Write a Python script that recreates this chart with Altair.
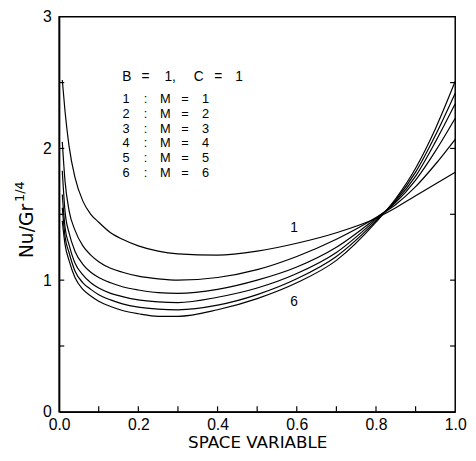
import altair as alt
import pandas as pd

# ---- data ----
x_vals = [0.008, 0.015, 0.025, 0.04, 0.06, 0.08, 0.1, 0.13, 0.16, 0.2, 0.25, 0.3, 0.4, 0.5,
          0.6, 0.7, 0.8, 0.85, 0.9, 0.95, 1.0]
m1 = [2.52, 2.28, 2.02, 1.78, 1.60, 1.50, 1.44, 1.36, 1.31, 1.26, 1.22, 1.20, 1.19, 1.22,
      1.28, 1.36, 1.47, 1.55, 1.64, 1.73, 1.82]
m2 = [2.05, 1.75, 1.53, 1.38, 1.26, 1.19, 1.14, 1.09, 1.06, 1.03, 1.01, 1.00, 1.02, 1.08,
      1.18, 1.31, 1.475, 1.575, 1.71, 1.88, 2.07]
m3 = [1.83, 1.52, 1.36, 1.22, 1.12, 1.06, 1.02, 0.98, 0.95, 0.925, 0.905, 0.90, 0.93, 1.00,
      1.10, 1.25, 1.47, 1.59, 1.76, 1.98, 2.23]
m4 = [1.65, 1.40, 1.27, 1.13, 1.04, 0.98, 0.94, 0.90, 0.875, 0.85, 0.835, 0.83, 0.87, 0.94,
      1.05, 1.21, 1.46, 1.60, 1.79, 2.05, 2.34]
m5 = [1.55, 1.33, 1.21, 1.07, 0.98, 0.93, 0.89, 0.85, 0.82, 0.795, 0.78, 0.775, 0.81, 0.89,
      1.01, 1.18, 1.45, 1.61, 1.82, 2.10, 2.42]
m6 = [1.45, 1.27, 1.15, 1.02, 0.93, 0.88, 0.84, 0.80, 0.77, 0.745, 0.725, 0.725, 0.775, 0.86,
      0.98, 1.15, 1.44, 1.62, 1.85, 2.15, 2.51]
series = {"1": m1, "2": m2, "3": m3, "4": m4, "5": m5, "6": m6}

x_tick_labels = [0.0, 0.2, 0.4, 0.6, 0.8, 1.0]
y_tick_labels = [0, 1, 2, 3]
x_minor = [0.1, 0.2, 0.3, 0.4, 0.5, 0.6, 0.7, 0.8, 0.9]
y_minor = [0.5, 1.0, 1.5, 2.0, 2.5]

x_title = "SPACE VARIABLE"
y_title_main = "Nu/Gr"
y_title_sup = "1/4"
header_tokens = ["B", "=", "1,", "C", "=", "1"]
legend_rows = [["1", ":", "M", "=", "1"], ["2", ":", "M", "=", "2"], ["3", ":", "M", "=", "3"],
               ["4", ":", "M", "=", "4"], ["5", ":", "M", "=", "5"], ["6", ":", "M", "=", "6"]]
curve_labels = ["1", "6"]

# ---- tables ----
rows = []
for k, vals in series.items():
    for xv, yv in zip(x_vals, vals):
        rows.append({"x": xv, "y": yv, "M": k})
df = pd.DataFrame(rows)

W, H = 403, 402
TOP, LEFT = 5, 52
xs = alt.Scale(domain=[0, 1], nice=False, zero=False)
ys = alt.Scale(domain=[0, 3], nice=False, zero=False)

FONT = "Liberation Sans"
TFONT = "DejaVu Sans"

lines = alt.Chart(df).mark_line(color="black", strokeWidth=1.2, interpolate="monotone").encode(
    x=alt.X("x:Q", scale=xs, axis=alt.Axis(values=x_tick_labels, format=".1f", title=x_title,
                                          ticks=False, labelPadding=5, titlePadding=2, labelFlush=False)),
    y=alt.Y("y:Q", scale=ys, axis=alt.Axis(values=y_tick_labels, format="d", title="",
                                          ticks=False, labelPadding=8, labelFlush=False)),
    detail="M:N",
)

# inward ticks
xt = pd.DataFrame({"x": x_minor, "y0": [0] * len(x_minor), "y1": [0.042] * len(x_minor)})
xticks = alt.Chart(xt).mark_rule(color="black", strokeWidth=1.2).encode(
    x=alt.X("x:Q", scale=xs), y=alt.Y("y0:Q", scale=ys), y2="y1:Q")
yt = pd.DataFrame({"y": y_minor, "x0": [0] * len(y_minor), "x1": [0.013] * len(y_minor)})
yticks = alt.Chart(yt).mark_rule(color="black", strokeWidth=1.2).encode(
    y=alt.Y("y:Q", scale=ys), x=alt.X("x0:Q", scale=xs), x2="x1:Q")
yt_r = pd.DataFrame({"y": y_minor, "x0": [1.0] * len(y_minor), "x1": [0.987] * len(y_minor)})
yticks_r = alt.Chart(yt_r).mark_rule(color="black", strokeWidth=1.2).encode(
    y=alt.Y("y:Q", scale=ys), x=alt.X("x0:Q", scale=xs), x2="x1:Q")

# y-axis title with superscript, placed beside the axis
ytitle = alt.Chart(pd.DataFrame({"t": [y_title_main]})).mark_text(
    angle=270, align="center", baseline="middle", fontSize=19, font=TFONT).encode(
    x=alt.value(-33), y=alt.value(218), text="t:N")
ysup = alt.Chart(pd.DataFrame({"t": [y_title_sup]})).mark_text(
    angle=270, align="center", baseline="middle", fontSize=13, font=TFONT).encode(
    x=alt.value(-40), y=alt.value(178), text="t:N")

# annotations (page-pixel guide positions converted to data units)
def px2x(p):
    return (p - 8 - LEFT) / W

def py2y(p):
    return (8 + TOP + H - p) / H * 3.0

head_px = [129, 148, 173, 202, 222, 243]
head = pd.DataFrame({"x": [px2x(p) for p in head_px], "y": [py2y(74)] * 6, "t": header_tokens})
head_txt = alt.Chart(head).mark_text(align="center", baseline="middle", fontSize=14, font=FONT).encode(
    x=alt.X("x:Q", scale=xs), y=alt.Y("y:Q", scale=ys), text="t:N")

col_px = [128, 148, 168, 188, 209]
leg = []
for i, r in enumerate(legend_rows):
    for j, tok in enumerate(r):
        leg.append({"x": px2x(col_px[j]), "y": py2y(97 + 15 * i), "t": tok})
leg_txt = alt.Chart(pd.DataFrame(leg)).mark_text(align="center", baseline="middle", fontSize=13, font=FONT).encode(
    x=alt.X("x:Q", scale=xs), y=alt.Y("y:Q", scale=ys), text="t:N")

cl = pd.DataFrame({"x": [px2x(299), px2x(299)], "y": [py2y(228), py2y(303)], "t": curve_labels})
cl_txt = alt.Chart(cl).mark_text(align="center", baseline="middle", fontSize=14, font=FONT).encode(
    x=alt.X("x:Q", scale=xs), y=alt.Y("y:Q", scale=ys), text="t:N")

chart = alt.layer(lines, xticks, yticks, yticks_r, ytitle, ysup, head_txt, leg_txt, cl_txt).properties(
    width=W, height=H,
    autosize=alt.AutoSizeParams(type="none"),
    padding={"left": LEFT, "top": TOP, "right": 13, "bottom": 40},
    background="white",
).configure_view(stroke="black", strokeWidth=1.5).configure_axis(
    grid=False, domainColor="black", domainWidth=1.5, labelColor="black", titleColor="black",
    labelFont=FONT, titleFont=TFONT, labelFontSize=16, titleFontSize=17, titleFontWeight="normal",
)

chart.save("out.html", embed_options={"renderer": "svg", "actions": False})
